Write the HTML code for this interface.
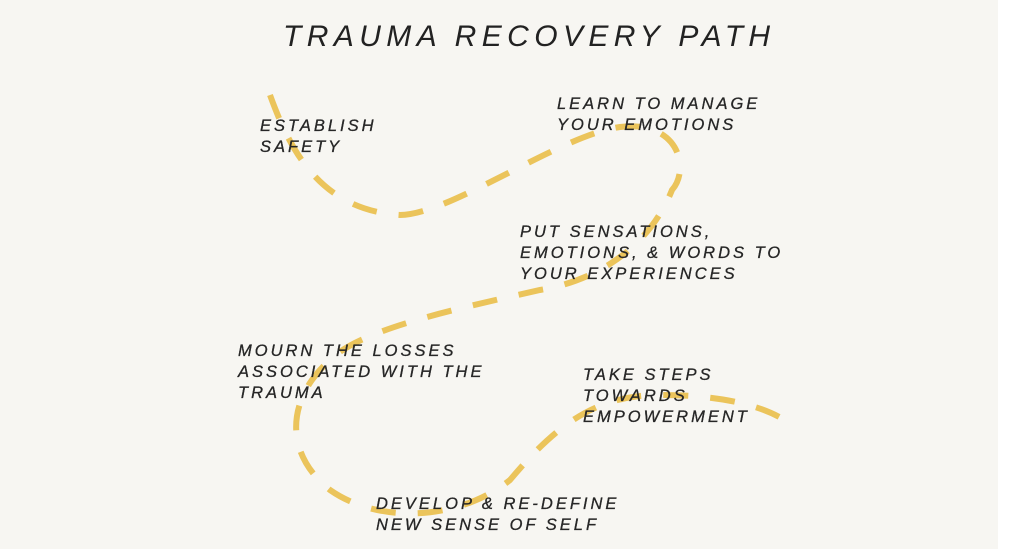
<!DOCTYPE html>
<html><head><style>
html,body{margin:0;padding:0;}
body{width:1024px;height:549px;background:#fff;position:relative;overflow:hidden;font-family:"Liberation Sans",sans-serif;}
#bg{position:absolute;left:0;top:0;width:998px;height:549px;background:#f7f6f2;}
.t{position:absolute;color:#262626;font-style:italic;font-size:16.5px;letter-spacing:3px;line-height:21px;white-space:nowrap;-webkit-text-stroke:0.3px #262626;}
#title{position:absolute;left:283px;top:20px;font-size:30px;letter-spacing:5.4px;font-style:italic;color:#222;white-space:nowrap;}
svg{position:absolute;left:0;top:0;}
</style></head><body>
<div id="bg"></div>
<svg width="1024" height="549"><path d="M270,95 C290,150 320,210 400,215 C450,215 560,135 620,127 C680,120 690,170 672,190 C650,245 600,280 540,290 C450,310 360,330 330,360 C290,395 280,450 330,490 C380,525 460,520 510,480 C560,420 600,395 660,395 C720,395 765,405 792,425" fill="none" stroke="#ebc45b" stroke-width="6" stroke-dasharray="25 22"/></svg>
<div id="title">TRAUMA RECOVERY PATH</div>
<div class="t" style="left:260px;top:116px">ESTABLISH<br>SAFETY</div>
<div class="t" style="left:557px;top:94px">LEARN TO MANAGE<br>YOUR EMOTIONS</div>
<div class="t" style="left:520px;top:222px">PUT SENSATIONS,<br>EMOTIONS, &amp; WORDS TO<br>YOUR EXPERIENCES</div>
<div class="t" style="left:238px;top:341px">MOURN THE LOSSES<br>ASSOCIATED WITH THE<br>TRAUMA</div>
<div class="t" style="left:583px;top:365px">TAKE STEPS<br>TOWARDS<br>EMPOWERMENT</div>
<div class="t" style="left:376px;top:494px">DEVELOP &amp; RE-DEFINE<br>NEW SENSE OF SELF</div>
</body></html>
